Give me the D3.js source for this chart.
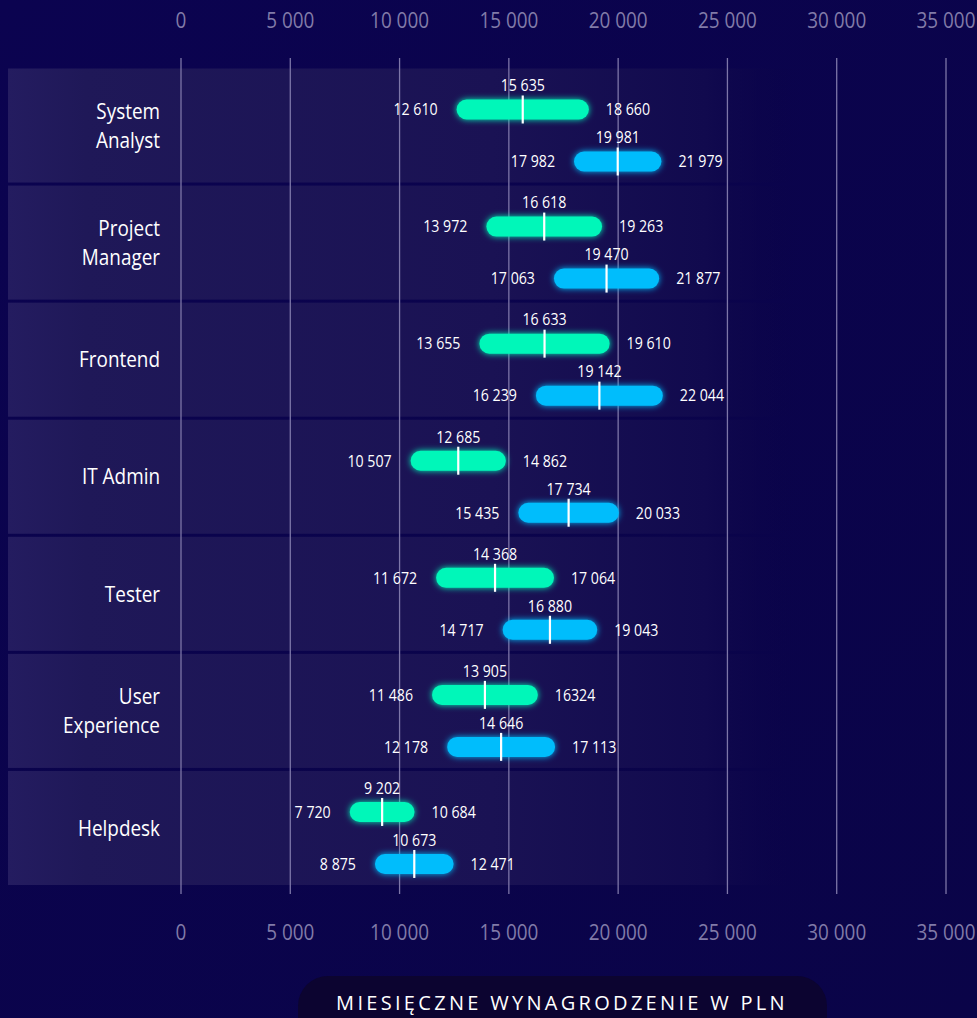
<!DOCTYPE html>
<html>
<head>
<meta charset="utf-8">
<script src="https://cdn.jsdelivr.net/npm/d3@7"></script>
<style>
  html, body { margin: 0; padding: 0; background: #0a0348; }
  svg { display: block; }
  .cond { font-family: "Open Sans", sans-serif; }
</style>
</head>
<body>
<svg id="svg" width="977" height="1018"></svg>
<script>
// DATA //
const categories = ["System Analyst", "Project Manager", "Frontend", "IT Admin", "Tester", "User Experience", "Helpdesk"];
const categoryLines = [["System", "Analyst"], ["Project", "Manager"], ["Frontend"], ["IT Admin"], ["Tester"], ["User", "Experience"], ["Helpdesk"]];

// green series (min, median, max)
const greenMin = [12610, 13972, 13655, 10507, 11672, 11486, 7720];
const greenMed = [15635, 16618, 16633, 12685, 14368, 13905, 9202];
const greenMax = [18660, 19263, 19610, 14862, 17064, 16324, 10684];

// blue series (min, median, max)
const blueMin = [17982, 17063, 16239, 15435, 14717, 12178, 8875];
const blueMed = [19981, 19470, 19142, 17734, 16880, 14646, 10673];
const blueMax = [21979, 21877, 22044, 20033, 19043, 17113, 12471];

const ticks = [0, 5000, 10000, 15000, 20000, 25000, 30000, 35000];
const axisTitle = "MIESIĘCZNE WYNAGRODZENIE W PLN";

// labels printed without grouping in the source
const rawLabels = {16324: "16324"};

// MAIN //
const svg = d3.select("#svg");
const W = 977, H = 1018;
const squeeze = 0.86; // fake a condensed face

const fmt = v => rawLabels[v] || d3.formatLocale({thousands: " ", grouping: [3], decimal: ","}).format(",d")(v);

const x = d3.scaleLinear().domain([0, 35000]).range([181, 946]);
const y = d3.scaleBand().domain(categories).range([68.5, 885]).paddingInner(0.026);

// Condensed text helper
function condText(sel, px, py) {
  return sel.append("text")
    .attr("class", "cond")
    .attr("transform", (d, i) => `translate(${px(d, i)},${py(d, i)}) scale(${squeeze},1)`)
    .attr("dy", "0.35em");
}

const defs = svg.append("defs");

// background gradient
let bg = defs.append("linearGradient").attr("id", "bg").attr("x1", 0).attr("y1", 0).attr("x2", 1).attr("y2", 1);
bg.append("stop").attr("offset", "0%").attr("stop-color", "#0b0350");
bg.append("stop").attr("offset", "100%").attr("stop-color", "#0a0448");

let band = defs.append("linearGradient").attr("id", "band");
band.append("stop").attr("offset", "0%").attr("stop-color", "#241c60");
band.append("stop").attr("offset", "8%").attr("stop-color", "#1f1858");
band.append("stop").attr("offset", "50%").attr("stop-color", "#1a1254");
band.append("stop").attr("offset", "72%").attr("stop-color", "#110a4e");
band.append("stop").attr("offset", "82%").attr("stop-color", "#0a0348").attr("stop-opacity", 0);

let glow = defs.append("filter").attr("id", "glow").attr("x", "-20%").attr("y", "-80%").attr("width", "140%").attr("height", "260%");
glow.append("feGaussianBlur").attr("in", "SourceGraphic").attr("stdDeviation", 3).attr("result", "b");
let merge = glow.append("feMerge");
merge.append("feMergeNode").attr("in", "b");
merge.append("feMergeNode").attr("in", "SourceGraphic");

svg.append("rect").attr("width", W).attr("height", H).attr("fill", "url(#bg)");

// row bands
svg.append("g").selectAll("rect")
  .data(categories)
  .enter()
  .append("rect")
  .attr("x", 8)
  .attr("y", d => y(d))
  .attr("width", W - 8)
  .attr("height", y.bandwidth())
  .attr("fill", "url(#band)");

// gridlines
svg.append("g").selectAll("line")
  .data(ticks)
  .enter()
  .append("line")
  .attr("x1", d => x(d)).attr("x2", d => x(d))
  .attr("y1", 58).attr("y2", 894)
  .attr("stroke", "#7d76a8")
  .attr("stroke-width", 1.3);

// axis labels top and bottom
[20, 932].forEach(yy => {
  let sel = svg.append("g").selectAll("text").data(ticks).enter();
  condText(sel, d => x(d), () => yy)
    .attr("text-anchor", "middle")
    .attr("fill", "#817ba8")
    .style("font-size", "22px")
    .text(d => fmt(d));
});

// category labels
categories.forEach((d, i) => {
  const lines = categoryLines[i];
  const cy = y(d) + y.bandwidth() / 2;
  let sel = svg.append("g").selectAll("text").data(lines).enter();
  condText(sel, () => 160, (l, j) => cy + (j - (lines.length - 1) / 2) * 29)
    .attr("text-anchor", "end")
    .attr("fill", "#ffffff")
    .style("font-size", "22px")
    .text(l => l);
});

// bars
const series = [
  {min: greenMin, med: greenMed, max: greenMax, color: "#00f7b9", offset: 41},
  {min: blueMin, med: blueMed, max: blueMax, color: "#00bdfc", offset: 93}
];

series.forEach(s => {
  const g = svg.append("g").selectAll("g")
    .data(categories)
    .enter()
    .append("g")
    .attr("transform", d => `translate(0,${y(d) + s.offset})`);

  g.append("rect")
    .attr("x", (d, i) => x(s.min[i]))
    .attr("y", -10)
    .attr("width", (d, i) => x(s.max[i]) - x(s.min[i]))
    .attr("height", 20)
    .attr("rx", 10)
    .attr("fill", s.color)
    .attr("filter", "url(#glow)");

  g.append("line")
    .attr("x1", (d, i) => x(s.med[i]))
    .attr("x2", (d, i) => x(s.med[i]))
    .attr("y1", -14).attr("y2", 14)
    .attr("stroke", "#ffffff")
    .attr("stroke-width", 2.2);

  condText(g, (d, i) => x(s.min[i]) - 19, () => 0)
    .attr("text-anchor", "end")
    .attr("fill", "#ffffff")
    .style("font-size", "16.5px")
    .text((d, i) => fmt(s.min[i]));

  condText(g, (d, i) => x(s.max[i]) + 17, () => 0)
    .attr("text-anchor", "start")
    .attr("fill", "#ffffff")
    .style("font-size", "16.5px")
    .text((d, i) => fmt(s.max[i]));

  condText(g, (d, i) => x(s.med[i]), () => -24)
    .attr("text-anchor", "middle")
    .attr("fill", "#ffffff")
    .style("font-size", "16.5px")
    .text((d, i) => fmt(s.med[i]));
});

// axis title pill
svg.append("rect")
  .attr("x", 298).attr("y", 976)
  .attr("width", 529).attr("height", 80)
  .attr("rx", 30)
  .attr("fill", "#0c0430");

svg.append("text")
  .attr("x", 562).attr("y", 1003)
  .attr("dy", "0.35em")
  .attr("text-anchor", "middle")
  .attr("fill", "#ffffff")
  .style("font-family", "'Open Sans', sans-serif")
  .style("font-size", "20px")
  .style("letter-spacing", "3.3px")
  .text(axisTitle);
</script>
</body>
</html>
